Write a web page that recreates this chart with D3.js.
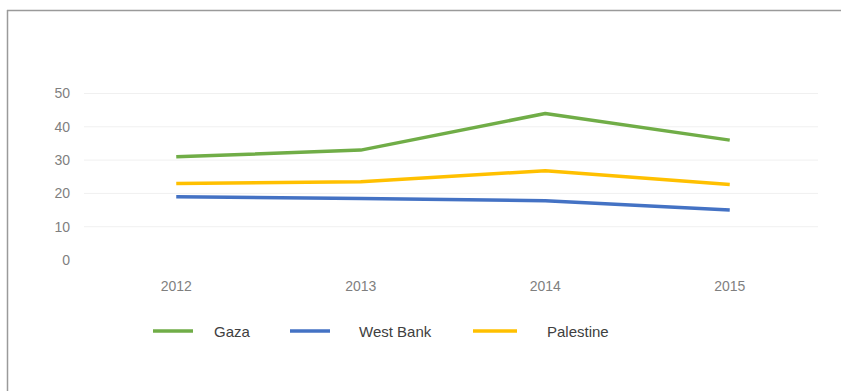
<!DOCTYPE html>
<html>
<head>
<meta charset="utf-8">
<script src="https://cdn.jsdelivr.net/npm/d3@7"></script>
<style>
  html, body { margin: 0; padding: 0; background: #fff; }
  svg { display: block; }
</style>
</head>
<body>
<svg id="chart" width="841" height="391"></svg>
<script>
// Categories and series
const years = ["2012", "2013", "2014", "2015"];
const gaza = [31, 33, 44, 36];
const westBank = [19, 18.5, 17.8, 15];
const palestine = [23, 23.5, 26.8, 22.7];
const yTicks = [0, 10, 20, 30, 40, 50];

const series = [
  { name: "Gaza", values: gaza, color: "#70AD47" },
  { name: "West Bank", values: westBank, color: "#4472C4" },
  { name: "Palestine", values: palestine, color: "#FFC000" }
];

const svg = d3.select("#chart");
const W = 841, H = 391;

// Frame edges (top and left)
svg.append("line").attr("x1", 7).attr("x2", W).attr("y1", 10.5).attr("y2", 10.5)
  .attr("stroke", "#9a9a9a").attr("stroke-width", 1.5);
svg.append("line").attr("x1", 7.5).attr("x2", 7.5).attr("y1", 10).attr("y2", H)
  .attr("stroke", "#9a9a9a").attr("stroke-width", 1.5);

const plot = { left: 84, right: 822, top: 93.5, bottom: 260 };

const x = d3.scaleBand().domain(years).range([plot.left, plot.right]);
const y = d3.scaleLinear().domain([0, 50]).range([plot.bottom, plot.top]);
const cx = d => x(d) + x.bandwidth() / 2;

// Gridlines
svg.append("g").selectAll("line").data(yTicks.filter(t => t > 0)).join("line")
  .attr("x1", plot.left).attr("x2", plot.right - 4)
  .attr("y1", d => y(d)).attr("y2", d => y(d))
  .attr("stroke", "#f0f0f0").attr("stroke-width", 1);

// Y axis labels
const yAxis = d3.axisLeft(y).tickValues(yTicks).tickSize(0).tickPadding(0);
const gy = svg.append("g").attr("transform", "translate(70,0)").call(yAxis);
gy.select(".domain").remove();
gy.selectAll("text").attr("fill", "#7f7f7f")
  .style("font-family", "'Liberation Sans', Arial, sans-serif").style("font-size", "14px");

// X axis labels
const xAxis = d3.axisBottom(x).tickSize(0).tickPadding(0);
const gx = svg.append("g").attr("transform", "translate(0,281)").call(xAxis);
gx.select(".domain").remove();
gx.selectAll("text").attr("fill", "#7f7f7f")
  .style("font-family", "'Liberation Sans', Arial, sans-serif").style("font-size", "14px");

// Lines
const line = d3.line().x((v, i) => cx(years[i])).y(v => y(v));
svg.append("g").selectAll("path").data(series).join("path")
  .attr("d", s => line(s.values))
  .attr("fill", "none")
  .attr("stroke", s => s.color)
  .attr("stroke-width", 3.5)
  .attr("stroke-linejoin", "round");

// Legend
const legendItems = [
  { s: series[0], x1: 153, x2: 193, tx: 214 },
  { s: series[1], x1: 290, x2: 330, tx: 359 },
  { s: series[2], x1: 473, x2: 517, tx: 547 }
];
const lg = svg.append("g");
legendItems.forEach(it => {
  lg.append("line").attr("x1", it.x1).attr("x2", it.x2).attr("y1", 331).attr("y2", 331)
    .attr("stroke", it.s.color).attr("stroke-width", 3.5);
  lg.append("text").attr("x", it.tx).attr("y", 332).attr("dy", "0.35em")
    .attr("fill", "#404040")
    .style("font-family", "'Liberation Sans', Arial, sans-serif").style("font-size", "15px")
    .text(it.s.name);
});
</script>
</body>
</html>
